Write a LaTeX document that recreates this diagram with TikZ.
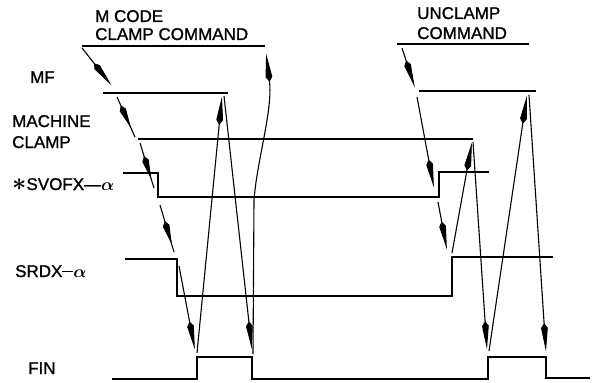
\documentclass[tikz,border=0pt]{standalone}
\usepackage{amsmath}
\usepackage{fontspec}
\setmainfont[FakeBold=1.2]{Liberation Sans}
\usetikzlibrary{arrows.meta,decorations.markings}
\begin{document}
\begin{tikzpicture}[x=1pt,y=-1pt,
  sig/.style={line width=1.7pt, line join=miter},
  conn/.style={line width=1.1pt, -{Stealth[length=24pt,width=6pt,inset=-5pt]}},
  midarr/.style={line width=1.1pt, decoration={markings, mark=at position #1 with {\arrow{Stealth[length=20pt,width=6pt,inset=-5pt]}}}, postaction={decorate}},
  lbl/.style={anchor=base west, inner sep=0pt, font=\fontsize{17}{19}\selectfont}
]
\useasboundingbox (0,0) rectangle (593,382);

% labels
\node[lbl] (tMC1) at (95,22) {M CODE};
\node[lbl] (tMC2) at (95,40) {CLAMP COMMAND};
\node[lbl] (tUC1) at (417,19) {UNCLAMP};
\node[lbl] (tUC2) at (417,39) {COMMAND};
\node[lbl] (tMF) at (30,83) {MF};
\node[lbl] (tMA) at (12,127) {MACHINE};
\node[lbl] (tCL) at (12,148) {CLAMP};
\node[lbl] (tSV) at (12,190) {{\fontsize{24}{24}\selectfont$\boldsymbol{\ast}$}SVOFX---$\boldsymbol{\alpha}$};
\node[lbl] (tSR) at (15,277) {SRDX\rule[4.6pt]{11pt}{1.3pt}$\boldsymbol{\alpha}$};
\node[lbl] (tFIN) at (28,374) {FIN};

% signals
\draw[sig] (82,46) -- (265,46);
\draw[sig] (397,44) -- (529,44);
\draw[sig] (103,93) -- (228,93);
\draw[sig] (419,91) -- (536,91);
\draw[sig] (138,139) -- (473,139);
\draw[sig] (123,173) -- (158,173) -- (158,197) -- (439,197) -- (439,172) -- (489,172);
\draw[sig] (125,259) -- (177,259) -- (177,296) -- (452,296) -- (452,257) -- (553,257);
\draw[sig] (112,379) -- (197,379) -- (197,357) -- (252,357) -- (252,379) -- (488,379) -- (488,357) -- (546,357) -- (546,378) -- (590,378);

% connector end points
\coordinate (a1s) at (82,48);   \coordinate (a1e) at (112,86);
\coordinate (a2s) at (117,97);  \coordinate (a2e) at (135,137);
\coordinate (a3s) at (140,143); \coordinate (a3e) at (154,188);
\coordinate (a4s) at (160,205); \coordinate (a4e) at (174,252);
\coordinate (a5s) at (179,266); \coordinate (a5e) at (195,350);
\coordinate (a6s) at (197,353); \coordinate (a6e) at (222,96);
\coordinate (a7s) at (224,96);  \coordinate (a7e) at (252,350);
\coordinate (a8s) at (253,354); \coordinate (a8m) at (254,200); \coordinate (a8e) at (266,53);
\coordinate (a9s) at (402,48);  \coordinate (a9e) at (415,88);
\coordinate (a10s) at (417,97); \coordinate (a10e) at (434,188);
\coordinate (a11s) at (438,202); \coordinate (a11e) at (447,250);
\coordinate (a12s) at (452,253); \coordinate (a12e) at (472,142);
\coordinate (a13s) at (473,142); \coordinate (a13e) at (487,350);
\coordinate (a14s) at (489,351); \coordinate (a14e) at (527,95);
\coordinate (a15s) at (529,95); \coordinate (a15e) at (546,352);

% connectors
\draw[conn] (a1s) -- (a1e);
\draw[midarr=0.78] (a2s) -- (a2e);
\draw[midarr=0.82] (a3s) -- (a3e);
\draw[midarr=0.85] (a4s) -- (a4e);
\draw[conn] (a5s) -- (a5e);
\draw[conn] (a6s) -- (a6e);
\draw[conn] (a7s) -- (a7e);
\draw[conn] (a8s) -- (a8m) .. controls (257,160) and (273,110) .. (a8e);
\draw[conn] (a9s) -- (a9e);
\draw[conn] (a10s) -- (a10e);
\draw[conn] (a11s) -- (a11e);
\draw[conn] (a12s) -- (a12e);
\draw[conn] (a13s) -- (a13e);
\draw[conn] (a14s) -- (a14e);
\draw[conn] (a15s) -- (a15e);
\end{tikzpicture}
\end{document}
